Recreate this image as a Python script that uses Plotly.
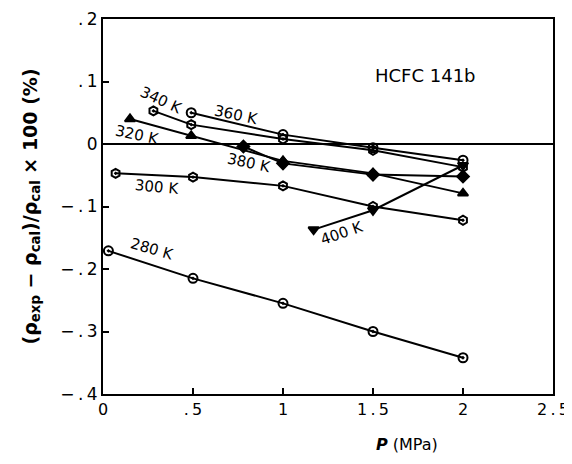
import plotly.graph_objects as go

# ---- data ----
p_280 = [0.03, 0.50, 1.00, 1.50, 2.00]
d_280 = [-0.171, -0.215, -0.255, -0.300, -0.342]

p_300 = [0.07, 0.50, 1.00, 1.50, 2.00]
d_300 = [-0.047, -0.053, -0.067, -0.100, -0.122]

p_320 = [0.15, 0.49, 1.00, 1.50, 2.00]
d_320 = [0.040, 0.013, -0.027, -0.047, -0.079]

p_340 = [0.28, 0.49, 1.00, 1.50, 2.00]
d_340 = [0.053, 0.031, 0.008, -0.010, -0.037]

p_360 = [0.49, 1.00, 1.50, 2.00]
d_360 = [0.050, 0.015, -0.006, -0.026]

p_380 = [0.78, 1.00, 1.50, 2.00]
d_380 = [-0.004, -0.031, -0.049, -0.052]

p_400 = [1.17, 1.50, 2.00]
d_400 = [-0.137, -0.106, -0.034]

series = [
    ("280K", p_280, d_280, "circle-open-dot"),
    ("300K", p_300, d_300, "hexagon-open-dot"),
    ("320K", p_320, d_320, "triangle-up"),
    ("340K", p_340, d_340, "hexagon-open-dot"),
    ("360K", p_360, d_360, "circle-open-dot"),
    ("380K", p_380, d_380, "diamond"),
    ("400K", p_400, d_400, "triangle-down"),
]

# label text, position (x, y in data units), angle
label_text = ["280 K", "300 K", "320 K", "340 K", "360 K", "380 K", "400 K"]
label_x = [0.27, 0.30, 0.19, 0.32, 0.74, 0.81, 1.33]
label_y = [-0.168, -0.068, 0.014, 0.070, 0.046, -0.030, -0.143]
label_ang = [16, 5, 12, 25, 12, 12, -19]

x_ticks = [0, 0.5, 1, 1.5, 2, 2.5]
x_ticktext = ["0", ".\u20095", "1", "1\u2009.\u20095", "2", "2\u2009.\u20095"]
y_ticks = [0.2, 0.1, 0, -0.1, -0.2, -0.3, -0.4]
y_ticktext = [".\u20092", ".\u20091", "0", "−\u2009.\u20091", "−\u2009.\u20092",
              "−\u2009.\u20093", "−\u2009.\u20094"]

FONT = "DejaVu Sans"

fig = go.Figure()

# zero line
fig.add_trace(go.Scatter(x=[0, 2.5], y=[0, 0], mode="lines",
                         line=dict(color="black", width=1.8),
                         hoverinfo="skip", showlegend=False))

for name, xs, ys, sym in series:
    fig.add_trace(go.Scatter(
        x=xs, y=ys, mode="lines+markers", name=name,
        line=dict(color="black", width=2),
        marker=dict(symbol=sym, size=9, color="black",
                    line=dict(color="black", width=2)),
        showlegend=False))

for t, lx, ly, a in zip(label_text, label_x, label_y, label_ang):
    fig.add_annotation(x=lx, y=ly, text=t, showarrow=False, textangle=a,
                       font=dict(family=FONT, size=15, color="black"))

fig.add_annotation(x=1.79, y=0.110, text="HCFC 141b", showarrow=False,
                   font=dict(family=FONT, size=18, color="black"))

fig.add_annotation(xref="paper", yref="paper", x=0.675, y=-0.135,
                   xanchor="center", yanchor="middle",
                   text="<b><i>P</i></b> (MPa)", showarrow=False,
                   font=dict(family=FONT, size=16, color="black"))

fig.add_annotation(xref="paper", yref="paper", x=-0.16, y=0.50,
                   xanchor="center", yanchor="middle", textangle=-90,
                   text="<b>(ρ<sub>exp</sub> − ρ<sub>cal</sub>)/ρ<sub>cal</sub> × 100 (%)</b>",
                   showarrow=False,
                   font=dict(family=FONT, size=19, color="black"))

# page body has an 8px margin, so the figure is sized/offset to compensate
fig.update_layout(
    width=564, height=456,
    margin=dict(l=95, r=19, t=11, b=70),
    paper_bgcolor="white", plot_bgcolor="white",
    font=dict(family=FONT, color="black"),
    xaxis=dict(range=[0, 2.5], tickvals=x_ticks, ticktext=x_ticktext,
               ticks="inside", ticklen=6, tickwidth=1.5, tickcolor="black",
               showline=True, linecolor="black", linewidth=2, mirror=True,
               showgrid=False, zeroline=False, automargin=False,
               tickfont=dict(family=FONT, size=16)),
    yaxis=dict(range=[-0.4, 0.2], tickvals=y_ticks, ticktext=y_ticktext,
               ticks="inside", ticklen=6, tickwidth=1.5, tickcolor="black",
               showline=True, linecolor="black", linewidth=2, mirror=True,
               showgrid=False, zeroline=False, automargin=False,
               tickfont=dict(family=FONT, size=17)),
)

fig.write_html("out.html")
